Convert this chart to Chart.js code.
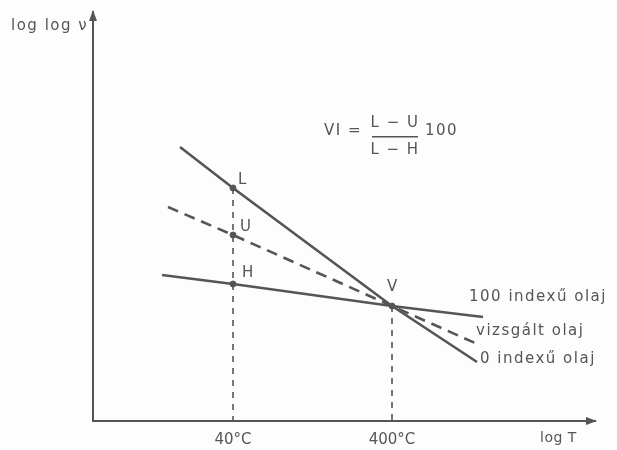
<!DOCTYPE html>
<html>
<head>
<meta charset="utf-8">
<script src="https://cdn.jsdelivr.net/npm/chart.js@4.4.0/dist/chart.umd.min.js"></script>
<style>
  html, body { margin: 0; padding: 0; background: #fdfdfd; }
  #wrap { width: 617px; height: 450px; }
</style>
</head>
<body>
<div id="wrap"><canvas id="viChart"></canvas></div>
<script>
// schematic units: x = log T, y = log log v (no real scale on the drawing)
const oil0X = [87, 140, 299, 384];
const oil0Y = [274, 233, 115, 59];
const oil100X = [69, 140, 299, 390];
const oil100Y = [146, 137, 115, 104];
const testX = [75, 140, 299, 382];
const testY = [214, 186, 115, 78];

const pointNames = ['L', 'U', 'H', 'V'];
const pointX = [140, 140, 140, 299];
const pointY = [233, 186, 137, 115];

const tickValues = [140, 299];
const tickLabels = ['40°C', '400°C'];

const ink = '#555555';
const textFont = '15px "DejaVu Sans"';

function toPts(xs, ys) {
    return xs.map((x, i) => ({ x: x, y: ys[i] }));
}

const lineStyle = {
    showLine: true,
    borderColor: ink,
    backgroundColor: ink,
    borderWidth: 2.6,
    pointRadius: 0,
    fill: false
};

const annotations = {
    id: 'annotations',
    afterDatasetsDraw(chart) {
        const ctx = chart.ctx;
        const area = chart.chartArea;
        const xs = chart.scales.x;
        const ys = chart.scales.y;
        ctx.save();
        ctx.fillStyle = ink;

        // arrow heads on the axes
        ctx.beginPath();
        ctx.moveTo(area.right + 2, area.bottom);
        ctx.lineTo(area.right - 9, area.bottom - 4);
        ctx.lineTo(area.right - 9, area.bottom + 4);
        ctx.closePath();
        ctx.fill();
        ctx.beginPath();
        ctx.moveTo(area.left, area.top - 2);
        ctx.lineTo(area.left - 4, area.top + 9);
        ctx.lineTo(area.left + 4, area.top + 9);
        ctx.closePath();
        ctx.fill();

        ctx.font = textFont;
        ctx.letterSpacing = '1.5px';
        ctx.textBaseline = 'middle';

        // point names
        const offs = [[5, -8], [7, -8], [9, -11], [-5, -19]];
        pointNames.forEach((name, i) => {
            const px = xs.getPixelForValue(pointX[i]);
            const py = ys.getPixelForValue(pointY[i]);
            ctx.textAlign = 'left';
            ctx.fillText(name, px + offs[i][0], py + offs[i][1]);
        });

        // line names
        ctx.fillText('100 indexű olaj', 469, 297);
        ctx.fillText('vizsgált olaj', 476, 331);
        ctx.fillText('0 indexű olaj', 480, 359);

        // axis names
        ctx.fillText('log log ν', 11, 26);
        ctx.letterSpacing = '0.5px';
        ctx.font = '14px "DejaVu Sans"';
        ctx.fillText('log T', 540, 438);

        // VI formula
        ctx.font = textFont;
        ctx.letterSpacing = '1.5px';
        ctx.textAlign = 'right';
        ctx.fillText('VI =', 362, 131);
        ctx.textAlign = 'center';
        ctx.fillText('L − U', 395, 123);
        ctx.fillText('L − H', 395, 150);
        ctx.fillRect(372, 136, 46, 1.5);
        ctx.textAlign = 'left';
        ctx.fillText('100', 425, 131);
        ctx.restore();
    }
};

new Chart(document.getElementById('viChart'), {
    type: 'scatter',
    data: {
        datasets: [
            Object.assign({ label: '0 indexű olaj', data: toPts(oil0X, oil0Y) }, lineStyle),
            Object.assign({ label: '100 indexű olaj', data: toPts(oil100X, oil100Y) }, lineStyle),
            Object.assign({ label: 'vizsgált olaj', data: toPts(testX, testY), borderDash: [11, 7] }, lineStyle),
            Object.assign({}, lineStyle, {
                label: '40°C',
                data: toPts([pointX[0], pointX[0]], [pointY[0], 0]),
                borderWidth: 1.6,
                borderDash: [6, 6]
            }),
            Object.assign({}, lineStyle, {
                label: '400°C',
                data: toPts([pointX[3], pointX[3]], [pointY[3], 0]),
                borderWidth: 1.6,
                borderDash: [6, 6]
            }),
            {
                label: 'pontok',
                data: toPts(pointX, pointY),
                showLine: false,
                pointRadius: 3,
                pointBackgroundColor: ink,
                pointBorderColor: ink
            }
        ]
    },
    options: {
        responsive: true,
        maintainAspectRatio: false,
        animation: false,
        layout: { padding: { left: 93, right: 22, top: 12, bottom: 0 } },
        plugins: {
            legend: { display: false },
            tooltip: { enabled: false }
        },
        scales: {
            x: {
                type: 'linear',
                min: 0,
                max: 502,
                grid: { display: false },
                border: { display: true, color: ink, width: 2 },
                afterBuildTicks: axis => {
                    axis.ticks = tickValues.map(v => ({ value: v }));
                },
                afterFit: axis => {
                    axis.height = 29;
                },
                ticks: {
                    autoSkip: false,
                    maxRotation: 0,
                    padding: 2,
                    color: ink,
                    font: { family: 'DejaVu Sans', size: 15 },
                    callback: value => tickLabels[tickValues.indexOf(value)]
                }
            },
            y: {
                min: 0,
                max: 409,
                grid: { display: false },
                border: { display: true, color: ink, width: 2 },
                afterFit: axis => {
                    axis.width = 0;
                },
                ticks: { display: false }
            }
        }
    },
    plugins: [annotations]
});
</script>
</body>
</html>
